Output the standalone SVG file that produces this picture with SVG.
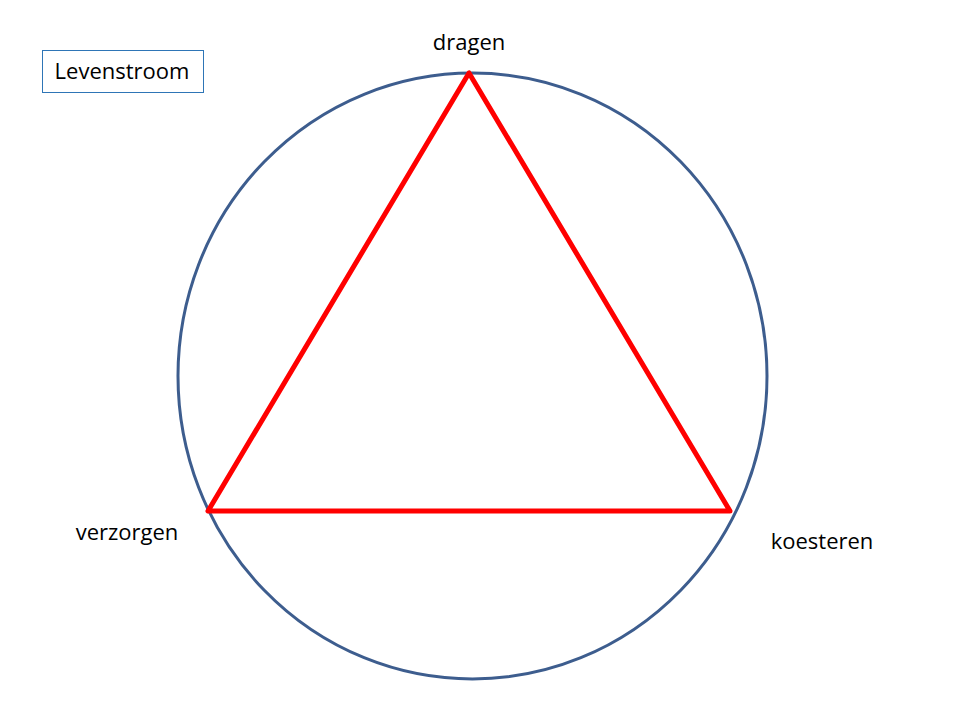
<svg xmlns="http://www.w3.org/2000/svg" width="960" height="720" viewBox="0 0 960 720">
<style>
.lbl{font-family:"Open Sans","Noto Sans","Liberation Sans",sans-serif;font-size:22px;fill:#000}
</style>
<rect width="960" height="720" fill="#fff"/>
<g id="levenstroom">
<rect x="42.5" y="50.5" width="161" height="42" fill="#fff" stroke="#2e75b6" stroke-width="1"/>
<text class="lbl" x="122" y="79" text-anchor="middle">Levenstroom</text>
</g>
<g id="connectors">
<ellipse id="circle" cx="472.5" cy="376" rx="294.5" ry="303" fill="none" stroke="#3d5d8e" stroke-width="3"/>
<polygon id="triangle" points="469,73 208,511 730,511" fill="none" stroke="#ff0000" stroke-width="5" stroke-linejoin="round"/>
</g>
<g id="dragen"><text class="lbl" x="469" y="50" text-anchor="middle">dragen</text></g>
<g id="verzorgen"><text class="lbl" x="127" y="540" text-anchor="middle">verzorgen</text></g>
<g id="koesteren"><text class="lbl" x="822" y="549" text-anchor="middle">koesteren</text></g>
</svg>
